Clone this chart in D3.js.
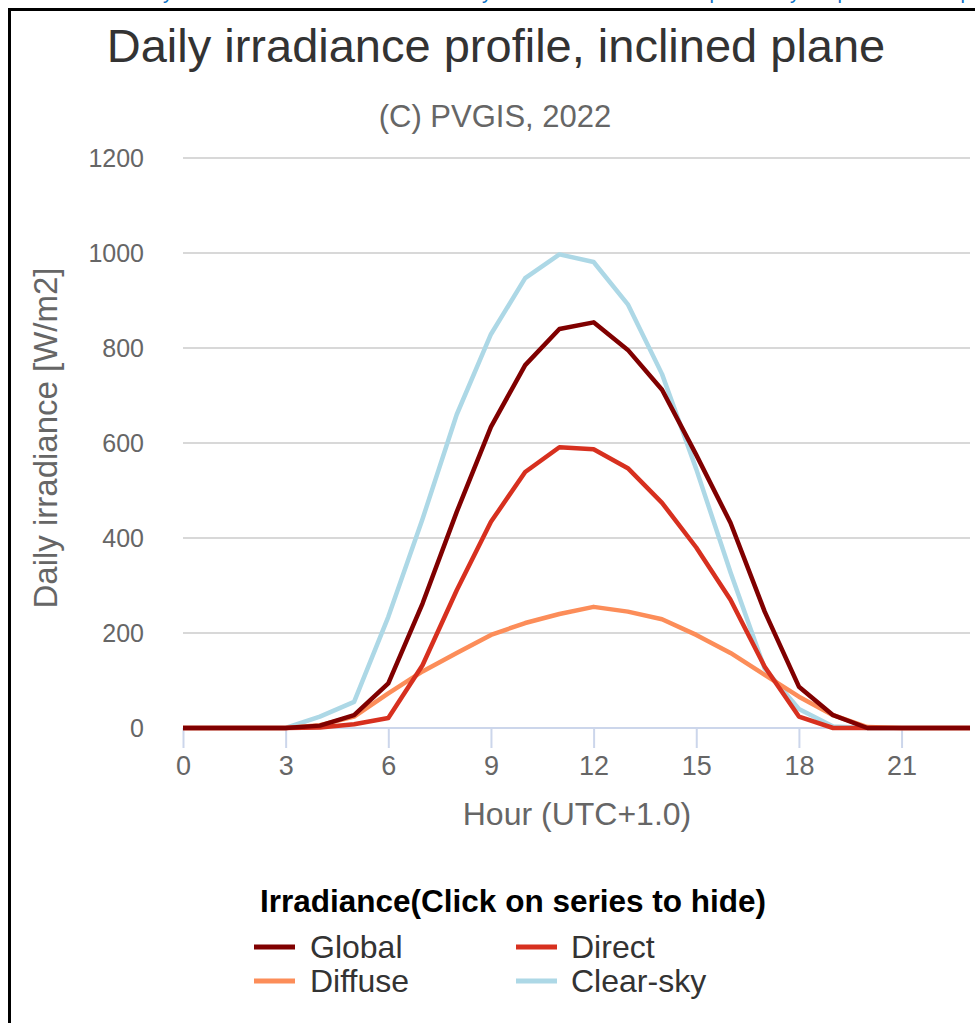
<!DOCTYPE html>
<html><head><meta charset="utf-8">
<script src="https://cdn.jsdelivr.net/npm/d3@7"></script>
<style>html,body{margin:0;padding:0;background:#fff;overflow:hidden}svg{display:block}text{font-family:"Liberation Sans",Arial,sans-serif}</style>
</head><body>
<script>
const hours = d3.range(0, 24);
const globalIrr  = [0,0,0,0,5,27,94,262,455,634,764,840,854,796,712,575,432,245,87,27,0,0,0,0];
const directIrr  = [0,0,0,0,1,8,21,132,290,434,539,591,587,547,474,380,270,129,24,0,0,0,0,0];
const diffuseIrr = [0,0,0,0,6,24,73,119,158,196,221,240,255,245,229,196,158,112,66,27,2,0,0,0];
const clearSky   = [0,0,0,0,24,55,234,440,660,829,947,997,981,892,745,545,328,125,40,3,0,0,0,0];
const seriesNames = ["Global","Direct","Diffuse","Clear-sky"];
const seriesColors = ["#800000","#d7301f","#fc8d59","#add8e6"];
const xTicks = [0,3,6,9,12,15,18,21];
const yTicks = [0,200,400,600,800,1000,1200];

const W = 975, H = 1023;
const svg = d3.select("body").append("svg").attr("width", W).attr("height", H);

// partial blue text above frame (cut off by the page edge)
const blueMarks = [{x:168,c:"y"},{x:487,c:"y"},{x:715,c:"p"},{x:795,c:"y"},{x:843,c:"p"},{x:966,c:"p"}];
svg.selectAll("text.blue").data(blueMarks).join("text").attr("class","blue")
  .attr("x", d=>d.x).attr("y", -1).attr("text-anchor","middle")
  .attr("font-size", 20).attr("fill","#0b6fc4").text(d=>d.c);

// frame
svg.append("path").attr("d","M9.5,1030 L9.5,9.5 L980,9.5").attr("fill","none").attr("stroke","#000").attr("stroke-width",3);

const x = d3.scaleLinear().domain([0,23]).range([183,970]);
const y = d3.scaleLinear().domain([0,1200]).range([728,158]);

// gridlines
svg.append("g").selectAll("line").data(yTicks.filter(v=>v>0)).join("line")
  .attr("x1",183).attr("x2",970).attr("y1",d=>y(d)).attr("y2",d=>y(d))
  .attr("stroke","#d8d8d8").attr("stroke-width",2);

// y labels
svg.append("g").selectAll("text").data(yTicks).join("text")
  .attr("x",144).attr("y",d=>y(d)+9).attr("text-anchor","end")
  .attr("font-size",25).attr("fill","#666").text(d=>d);

// x axis
const xAxis = d3.axisBottom(x).tickValues(xTicks).tickSize(20).tickPadding(8).tickFormat(d3.format("d"));
const gx = svg.append("g").attr("transform","translate(0,728)").call(xAxis);
gx.select(".domain").attr("stroke","#ccd6eb").attr("stroke-width",2).attr("d","M183,0H970");
gx.selectAll(".tick line").attr("stroke","#ccd6eb").attr("stroke-width",2);
gx.selectAll(".tick text").attr("font-size",27).attr("fill","#666").attr("font-family","Liberation Sans, Arial, sans-serif");

// titles
svg.append("text").attr("x",496).attr("y",62).attr("text-anchor","middle").attr("font-size",47).attr("fill","#333").text("Daily irradiance profile, inclined plane");
svg.append("text").attr("x",495).attr("y",127).attr("text-anchor","middle").attr("font-size",31).attr("fill","#666").text("(C) PVGIS, 2022");
svg.append("text").attr("x",577).attr("y",825).attr("text-anchor","middle").attr("font-size",32).attr("fill","#666").text("Hour (UTC+1.0)");
svg.append("text").attr("transform","translate(57,438) rotate(-90)").attr("text-anchor","middle").attr("font-size",33).attr("fill","#666").text("Daily irradiance [W/m2]");

// series
const allSeries = [globalIrr, directIrr, diffuseIrr, clearSky];
const line = d3.line().x((d,i)=>x(hours[i])).y(d=>y(d));
const order = [3,2,1,0];
svg.append("g").selectAll("path").data(order).join("path")
  .attr("d", k=>line(allSeries[k])).attr("fill","none")
  .attr("stroke", k=>seriesColors[k]).attr("stroke-width",4.5).attr("stroke-linejoin","round");

// legend
svg.append("text").attr("x",513).attr("y",912).attr("text-anchor","middle").attr("font-size",31.5).attr("font-weight","bold").attr("fill","#000").text("Irradiance(Click on series to hide)");
const legendPos = [{sx:254,tx:310,y:947},{sx:516,tx:571,y:947},{sx:254,tx:310,y:981},{sx:516,tx:571,y:981}];
const lg = svg.append("g").selectAll("g").data(seriesNames).join("g");
lg.append("line").attr("x1",(d,i)=>legendPos[i].sx).attr("x2",(d,i)=>legendPos[i].sx+41)
  .attr("y1",(d,i)=>legendPos[i].y).attr("y2",(d,i)=>legendPos[i].y)
  .attr("stroke",(d,i)=>seriesColors[i]).attr("stroke-width",5);
lg.append("text").attr("x",(d,i)=>legendPos[i].tx).attr("y",(d,i)=>legendPos[i].y+11)
  .attr("font-size",32).attr("fill","#333").text(d=>d);
</script>
</body></html>
